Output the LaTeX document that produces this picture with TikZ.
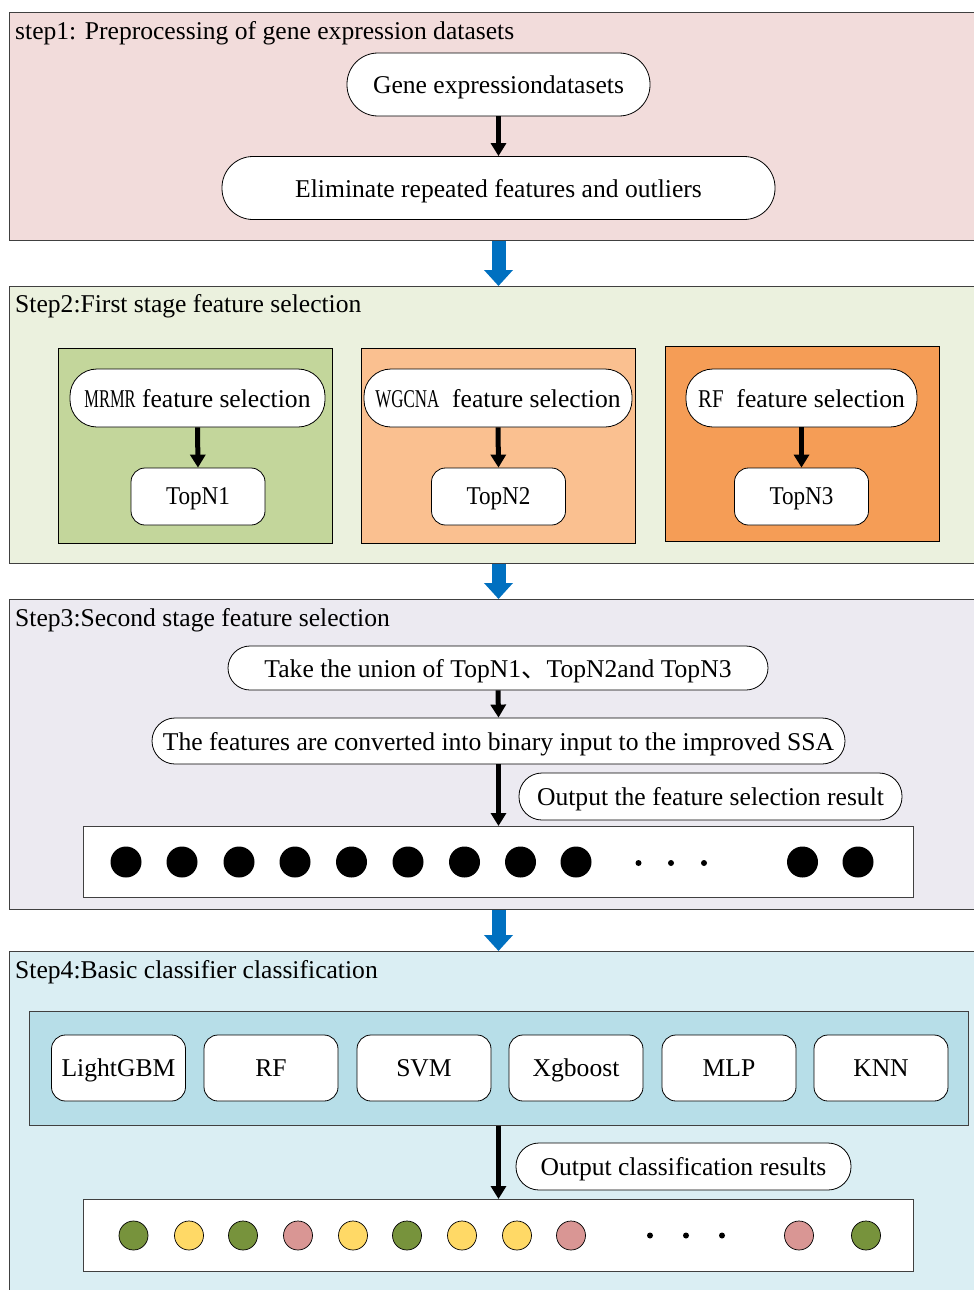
\documentclass[tikz,border=0pt]{standalone}
\usepackage{fontspec}
\setmainfont{Liberation Serif}
\newfontfamily\cjk{Noto Sans CJK SC}
\usetikzlibrary{arrows.meta,calc}
\definecolor{sonecol}{HTML}{F2DCDB}
\definecolor{stwocol}{HTML}{EBF1DE}
\definecolor{sthreecol}{HTML}{ECEAF1}
\definecolor{sfourcol}{HTML}{DAEEF3}
\definecolor{innercol}{HTML}{B7DEE8}
\definecolor{boxa}{HTML}{C3D69B}
\definecolor{boxb}{HTML}{FAC090}
\definecolor{boxc}{HTML}{F59D56}
\definecolor{arrowblue}{HTML}{0070C0}
\definecolor{dgreen}{HTML}{77933C}
\definecolor{dyellow}{HTML}{FFD966}
\definecolor{dpink}{HTML}{D99694}
\definecolor{frame}{HTML}{404040}
\newcommand{\narrowtxt}[2]{\resizebox{#1}{\height}{#2}}
\tikzset{
  every node/.style={font=\fontsize{25.6}{30}\selectfont},
  stepbox/.style={draw=frame, line width=0.9pt, anchor=north west, inner sep=0pt},
  subbox/.style={draw=black, line width=0.9pt, anchor=north west, inner sep=0pt},
  titletext/.style={anchor=west, inner sep=0pt},
  pill/.style={draw=black, line width=0.8pt, fill=white, inner sep=0pt, text depth=0pt},
  rbox/.style={draw=black, line width=0.8pt, fill=white, inner sep=0pt, text depth=0pt, rounded corners=14pt, minimum width=134pt, minimum height=57pt},
  cbox/.style={draw=black, line width=0.8pt, fill=white, inner sep=0pt, text depth=0pt, rounded corners=14pt, minimum width=134pt, minimum height=66pt},
  blackarrow/.style={line width=5pt, -{Triangle[width=15pt,length=13pt]}},
  bluearrow/.style={arrowblue, line width=14pt, -{Triangle[width=28pt,length=16pt]}},
  bigdot/.style={circle, fill=black, inner sep=0pt, minimum size=31pt},
  smalldot/.style={circle, fill=black, inner sep=0pt, minimum size=6pt},
  cdot/.style={circle, draw=black, line width=0.7pt, inner sep=0pt, minimum size=29pt},
}
\begin{document}
\begin{tikzpicture}[x=1pt,y=-1pt]
\useasboundingbox (0,0) rectangle (974,1290);
\clip (0,0) rectangle (974,1290);
\fill[white] (0,0) rectangle (974,1290);

% step boxes
\node[stepbox, fill=sonecol, minimum width=975pt, minimum height=228pt] (s1) at (9,12) {};
\node[stepbox, fill=stwocol, minimum width=975pt, minimum height=277pt] (s2) at (9,286) {};
\node[stepbox, fill=sthreecol, minimum width=975pt, minimum height=310pt] (s3) at (9,599) {};
\node[stepbox, fill=sfourcol, minimum width=975pt, minimum height=360pt] (s4) at (9,951) {};

\node[titletext] (t1) at (15,33) {step1: Preprocessing of gene expression datasets};
\node[titletext] (t2) at (15,306) {Step2:First stage feature selection};
\node[titletext] (t3) at (15,620) {Step3:Second stage feature selection};
\node[titletext] (t4) at (15,972) {Step4:Basic classifier classification};

% step 1
\node[pill, rounded corners=31pt, minimum width=303pt, minimum height=63pt] (g1) at (498.5,84.5) {Gene expressiondatasets};
\node[pill, rounded corners=31pt, minimum width=553pt, minimum height=63pt] (g2) at (498.5,188) {Eliminate repeated features and outliers};
\draw[blackarrow] (g1.south) -- (g2.north);

% step 2
\node[subbox, fill=boxa, minimum width=274pt, minimum height=195pt] (b1) at (58,348) {};
\node[subbox, fill=boxb, minimum width=274pt, minimum height=195pt] (b2) at (361,348) {};
\node[subbox, fill=boxc, minimum width=274pt, minimum height=195pt] (b3) at (665,346) {};

\node[pill, rounded corners=27pt, minimum width=255pt, minimum height=58pt] (m1) at (197.5,398) {\narrowtxt{2em}{MRMR} feature selection};
\node[pill, rounded corners=27pt, minimum width=268pt, minimum height=58pt] (m2) at (498,398) {\narrowtxt{2.5em}{WGCNA}\ \ feature selection};
\node[pill, rounded corners=27pt, minimum width=231pt, minimum height=58pt] (m3) at (801.5,398) {\narrowtxt{1em}{RF}\ \ feature selection};
\node[rbox] (n1) at (198,496.5) {\narrowtxt{2.5em}{TopN1}};
\node[rbox] (n2) at (498.5,496.5) {\narrowtxt{2.5em}{TopN2}};
\node[rbox] (n3) at (801.5,496.5) {\narrowtxt{2.5em}{TopN3}};
\draw[blackarrow] (m1.south) -- (n1.north);
\draw[blackarrow] (m2.south) -- (n2.north);
\draw[blackarrow] (m3.south) -- (n3.north);

% step 3
\node[pill, rounded corners=22pt, minimum width=540pt, minimum height=44pt] (u1) at (498,668) {Take the union of TopN1{\cjk 、}TopN2and TopN3};
\node[pill, rounded corners=23pt, minimum width=693pt, minimum height=46pt] (u2) at (498.5,741) {The features are converted into binary input to the improved SSA};
\node[pill, rounded corners=23pt, minimum width=383pt, minimum height=47pt] (u3) at (710.5,796.5) {Output the feature selection result};
\node[subbox, draw=frame, fill=white, minimum width=830pt, minimum height=71pt] (r1) at (83,826) {};
\draw[blackarrow] (u1.south) -- (u2.north);
\draw[blackarrow] (u2.south) -- (u2.south |- r1.north);

\foreach \x [count=\i] in {126,182,239,295,351.5,408,464.5,520.5,576,802.5,858}
  \node[bigdot] (fd\i) at (\x,862) {};
\foreach \x [count=\i] in {638.5,671,704}
  \node[smalldot] (fs\i) at (\x,863) {};

% step 4
\node[subbox, draw=frame, fill=innercol, minimum width=939pt, minimum height=114pt] (ib) at (29,1011) {};
\foreach \x/\t [count=\i] in {118.5/LightGBM,271/RF,424/SVM,576/Xgboost,729/MLP,881/KNN}
  \node[cbox] (c\i) at (\x,1068) {\t};
\node[pill, rounded corners=23pt, minimum width=335pt, minimum height=47pt] (u4) at (683.5,1166.5) {Output classification results};
\node[subbox, draw=frame, fill=white, minimum width=830pt, minimum height=72pt] (r2) at (83,1199) {};
\draw[blackarrow] (ib.south -| u2.south) -- (r2.north -| u2.south);

\foreach \x/\c [count=\i] in {133.5/dgreen,189/dyellow,243/dgreen,298/dpink,353/dyellow,407/dgreen,462/dyellow,517/dyellow,571/dpink,799/dpink,866/dgreen}
  \node[cdot, fill=\c] (cd\i) at (\x,1235.5) {};
\foreach \x [count=\i] in {650,686,722}
  \node[smalldot] (cs\i) at (\x,1235.5) {};

% blue connectors between steps
\draw[bluearrow] (s1.south -| g1.south) -- (s2.north -| g1.south);
\draw[bluearrow] (s2.south -| g1.south) -- (s3.north -| g1.south);
\draw[bluearrow] (s3.south -| g1.south) -- (s4.north -| g1.south);
\end{tikzpicture}
\end{document}
